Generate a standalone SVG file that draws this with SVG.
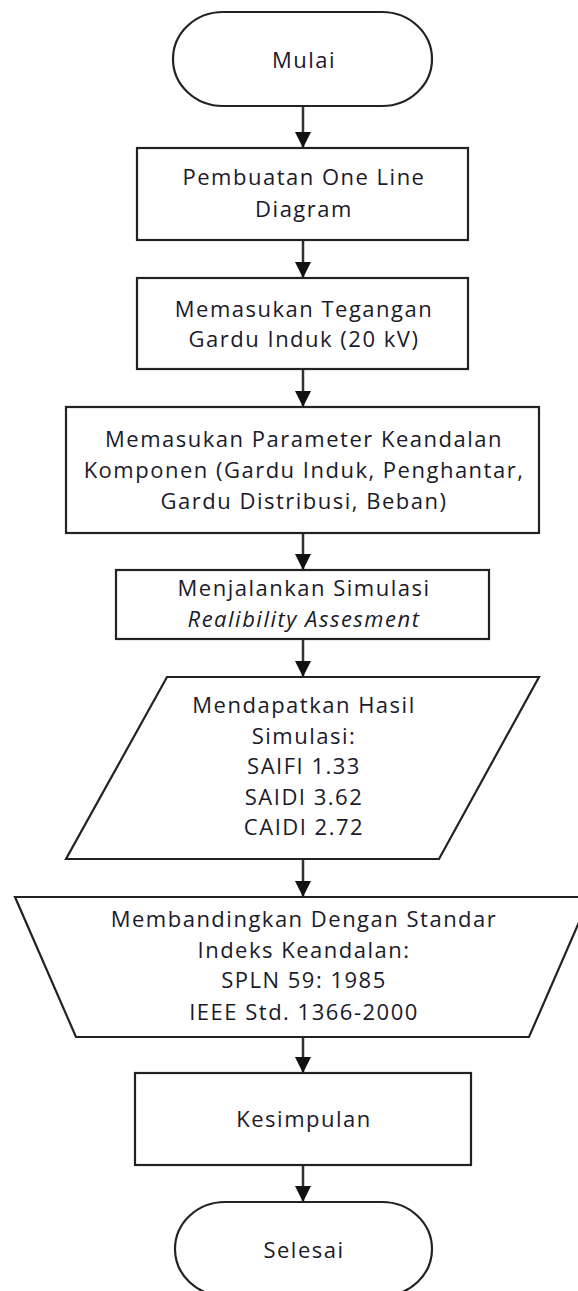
<svg xmlns="http://www.w3.org/2000/svg" width="578" height="1291" viewBox="0 0 578 1291">
  <style>
    .shape { fill: #ffffff; stroke: #222222; stroke-width: 2.2; }
    .conn { stroke: #333333; stroke-width: 2.5; fill: none; }
    text { font-family: "Open Sans", "Noto Sans", sans-serif; font-size: 22px; font-weight: 500; letter-spacing: 1.5px; fill: #1a1a2a; text-anchor: middle; }
    .it { font-style: italic; }
  </style>
  <defs>
    <marker id="arrow" viewBox="0 0 16 16" refX="16" refY="8" markerWidth="16" markerHeight="16" markerUnits="userSpaceOnUse" orient="auto">
      <path d="M0,0 L16,8 L0,16 Z" fill="#111111"/>
    </marker>
  </defs>
  <rect width="578" height="1291" fill="#ffffff"/>

  <g id="connectors">
    <line class="conn" x1="303" y1="106" x2="303" y2="148" marker-end="url(#arrow)"/>
    <line class="conn" x1="303" y1="240" x2="303" y2="278" marker-end="url(#arrow)"/>
    <line class="conn" x1="303" y1="369" x2="303" y2="407" marker-end="url(#arrow)"/>
    <line class="conn" x1="303" y1="533" x2="303" y2="570" marker-end="url(#arrow)"/>
    <line class="conn" x1="303" y1="639" x2="303" y2="677" marker-end="url(#arrow)"/>
    <line class="conn" x1="303" y1="859" x2="303" y2="897" marker-end="url(#arrow)"/>
    <line class="conn" x1="303" y1="1037" x2="303" y2="1073" marker-end="url(#arrow)"/>
    <line class="conn" x1="303" y1="1165" x2="303" y2="1202" marker-end="url(#arrow)"/>
  </g>

  <g id="mulai">
    <rect class="shape" x="173" y="12" width="259" height="94" rx="50" ry="47"/>
    <text x="304" y="68">Mulai</text>
  </g>

  <g id="one-line">
    <rect class="shape" x="137" y="148" width="331" height="92"/>
    <text x="304" y="185">Pembuatan One Line</text>
    <text x="304" y="217">Diagram</text>
  </g>

  <g id="tegangan">
    <rect class="shape" x="137" y="278" width="331" height="91"/>
    <text x="304" y="317">Memasukan Tegangan</text>
    <text x="304" y="347">Gardu Induk (20 kV)</text>
  </g>

  <g id="parameter">
    <rect class="shape" x="66" y="407" width="473" height="126"/>
    <text x="304" y="447">Memasukan Parameter Keandalan</text>
    <text x="304" y="478">Komponen (Gardu Induk, Penghantar,</text>
    <text x="304" y="509">Gardu Distribusi, Beban)</text>
  </g>

  <g id="simulasi">
    <rect class="shape" x="116" y="570" width="373" height="69"/>
    <text x="304" y="596">Menjalankan Simulasi</text>
    <text class="it" x="304" y="627">Realibility Assesment</text>
  </g>

  <g id="hasil">
    <polygon class="shape" points="167,677 539,677 439,859 66,859"/>
    <text x="304" y="713">Mendapatkan Hasil</text>
    <text x="304" y="744">Simulasi:</text>
    <text x="304" y="774">SAIFI 1.33</text>
    <text x="304" y="805">SAIDI 3.62</text>
    <text x="304" y="835">CAIDI 2.72</text>
  </g>

  <g id="standar">
    <polygon class="shape" points="15,897 590,897 529,1037 76,1037"/>
    <text x="304" y="927">Membandingkan Dengan Standar</text>
    <text x="304" y="958">Indeks Keandalan:</text>
    <text x="304" y="988">SPLN 59: 1985</text>
    <text x="304" y="1020">IEEE Std. 1366-2000</text>
  </g>

  <g id="kesimpulan">
    <rect class="shape" x="135" y="1073" width="336" height="92"/>
    <text x="304" y="1127">Kesimpulan</text>
  </g>

  <g id="selesai">
    <rect class="shape" x="175" y="1202" width="257" height="94" rx="50" ry="47"/>
    <text x="304" y="1258">Selesai</text>
  </g>
</svg>
